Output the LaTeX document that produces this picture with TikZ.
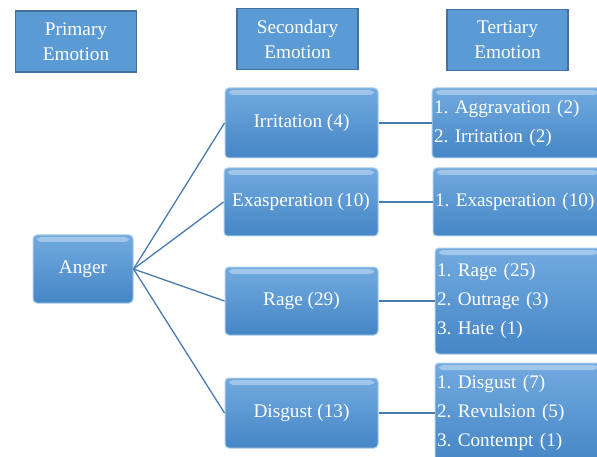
\documentclass[tikz,border=0pt]{standalone}
\usepackage{fontspec}
\setmainfont{Liberation Serif}
\frenchspacing
\definecolor{headFill}{HTML}{5B9BD5}
\definecolor{headEdge}{HTML}{41719C}
\definecolor{boxTop}{HTML}{72AADF}
\definecolor{boxBottom}{HTML}{4586C6}
\definecolor{boxEdge}{HTML}{A9CBEA}
\definecolor{lineBlue}{HTML}{4A7BAE}

\begin{document}
\begin{tikzpicture}
[x=1pt,y=-1pt,
  font=\fontsize{19.3}{25}\selectfont,
  headDecorate/.style={shape=rectangle,draw=headEdge,fill=headFill,line width=1.2pt,
    text=white,align=center,inner sep=0pt},
  boxDecorate/.style={shape=rectangle,rounded corners=4pt,draw=boxEdge,line width=1pt,
    top color=boxTop,bottom color=boxBottom,text=white,align=center,inner sep=0pt,
    path picture={\fill[white,opacity=.35]
      ([xshift=4pt,yshift=-2pt]path picture bounding box.north west) rectangle
      ([xshift=-4pt,yshift=-7pt]path picture bounding box.north east);}},
  listDecorate/.style={boxDecorate,align=left,inner xsep=2pt,
    font=\fontsize{19.2}{29}\selectfont},
  lineDecorate/.style={-,draw=lineBlue,line width=1.3pt}]
\useasboundingbox (0,0) rectangle (597,457);
\clip (0,0) rectangle (597,457);
%% column headings
\foreach \nodename/\x/\y/\txt in {
  hdrP/76/41.5/Primary\\Emotion,
  hdrS/297.5/39/Secondary\\Emotion,
  hdrT/507.5/40/Tertiary\\Emotion}
{
  \node (\nodename) at (\x,\y) [headDecorate,minimum width=121pt,minimum height=61pt] {\txt};
}
%% primary and secondary emotions
\foreach \nodename/\x/\y/\w/\h/\txt in {
  anger/83/269/100/68/Anger,
  irr/301.5/123/153/70/Irritation (4),
  exa/301/202/154/68/Exasperation (10),
  rage/301.5/301/153/68/Rage (29),
  disg/301.5/413/153/70/Disgust (13)}
{
  \node (\nodename) at (\x,\y) [boxDecorate,minimum width=\w pt,minimum height=\h pt] {\txt};
}
%% tertiary emotions
\foreach \nodename/\x/\y/\tw/\h/\txt in {
  tIrr/517/123/166/70/1. Aggravation (2)\\2. Irritation (2),
  tExa/517.5/202/165/68/1. Exasperation (10),
  tRage/518.5/301/163/106/1. Rage (25)\\2. Outrage (3)\\3. Hate (1),
  tDisg/518.5/413/163/100/1. Disgust (7)\\2. Revulsion (5)\\3. Contempt (1)}
{
  \node (\nodename) at (\x,\y) [listDecorate,text width=\tw pt,minimum height=\h pt] {\txt};
}
%% edges or lines
\path
\foreach \startnode/\endnode in {
  anger/irr, anger/exa, anger/rage, anger/disg,
  irr/tIrr, exa/tExa, rage/tRage, disg/tDisg}
{
  (\startnode.east) edge[lineDecorate] (\endnode.west)
};
\end{tikzpicture}
\end{document}
